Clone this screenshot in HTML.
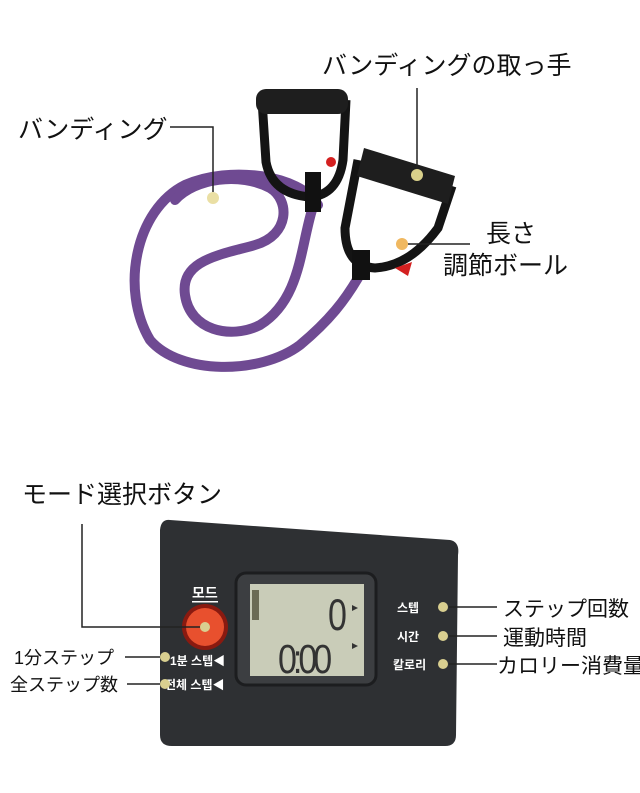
<!DOCTYPE html>
<html><head><meta charset="utf-8"><style>
html,body{margin:0;padding:0;background:#fff}
svg{display:block}
text{font-family:"Liberation Sans","Noto Sans CJK JP",sans-serif}
</style></head><body>
<svg width="640" height="793" viewBox="0 0 640 793" xmlns="http://www.w3.org/2000/svg">
<rect width="640" height="793" fill="#fff"/>
<!-- band -->
<g fill="none" stroke="#6f4a92" stroke-width="10" stroke-linecap="round">
<path d="M318 205 C300 175 230 165 185 185 C135 210 120 290 150 340 C180 375 260 375 300 345 C330 320 345 300 358 278"/>
<path d="M312 210 C300 250 300 300 260 325 C230 340 190 330 185 295 C180 260 220 255 255 245 C290 235 290 200 270 188 C240 172 195 178 175 200"/>
</g>
<!-- handle 1 -->
<path d="M262 100 L266 162 Q272 194 310 197 Q338 195 343 160 L346 100" fill="none" stroke="#141414" stroke-width="9"/>
<rect x="256" y="89" width="92" height="25" rx="10" fill="#1e1e1e"/>
<rect x="305" y="172" width="16" height="40" fill="#111"/>
<circle cx="331" cy="162" r="5" fill="#d42020"/>
<!-- handle 2 -->
<path d="M358 160 L345 228 Q345 266 375 268 Q410 266 438 228 L452 186" fill="none" stroke="#141414" stroke-width="9"/>
<path d="M364 148 L455 176 L448 204 L357 176 Z" fill="#1e1e1e"/>
<rect x="352" y="250" width="18" height="30" fill="#111"/>
<path d="M395 268 L412 262 L408 276 Z" fill="#d42020"/>
<!-- dots -->
<circle cx="213" cy="198" r="6" fill="#e8dc9a" opacity="0.9"/>
<circle cx="417" cy="175" r="6" fill="#d9d08a"/>
<circle cx="402" cy="244" r="6" fill="#f0b860"/>
<!-- top labels & lines -->
<g stroke="#222" stroke-width="1.5" fill="none">
<path d="M170 127 H213 V192"/>
<path d="M417 88 V169"/>
<path d="M408 244 H470"/>
</g>
<g font-size="25" fill="#111">
<text x="18" y="138">バンディング</text>
<text x="322" y="74">バンディングの取っ手</text>
<text x="486" y="242">長さ</text>
<text x="443" y="274">調節ボール</text>
</g>
<!-- device -->
<path d="M170 520 L450 540 Q460 542 458 555 L456 735 Q456 746 445 746 L172 746 Q160 746 160 735 L160 530 Q161 519 170 520 Z" fill="#2e3033"/>
<rect x="236" y="573" width="140" height="112" rx="10" fill="#3c3e41" stroke="#1c1d1f" stroke-width="3"/>
<rect x="250" y="584" width="114" height="92" fill="#c9ccb8"/>
<rect x="252" y="590" width="7" height="30" fill="#6b6b55"/>
<text x="0" y="0" font-size="34" fill="#333" font-family="Liberation Mono,monospace" transform="translate(328 630) scale(1 1.3)">0</text>
<text x="0" y="0" font-size="34" fill="#333" font-family="Liberation Mono,monospace" letter-spacing="-4" transform="translate(278 673) scale(1 1.2)">0:00</text>
<path d="M352 605 l6 3 -6 3Z M352 643 l6 3 -6 3Z" fill="#333"/>
<circle cx="205" cy="627" r="23" fill="#8a1a10"/>
<circle cx="205" cy="627" r="19" fill="#e8502e"/>
<text x="192" y="598" font-size="14" fill="#fff" font-weight="bold" font-family="Liberation Sans,NanumGothic,sans-serif">모드</text>
<rect x="192" y="601" width="26" height="1.5" fill="#fff"/>
<g font-size="12" fill="#fff" font-weight="bold" font-family="Liberation Sans,NanumGothic,sans-serif">
<text x="397" y="612">스텝</text>
<text x="397" y="641">시간</text>
<text x="393" y="669">칼로리</text>
<text x="170" y="665">1분 스텝◀</text>
<text x="165" y="689">전체 스텝◀</text>
</g>
<g fill="#d9cf90">
<circle cx="443" cy="607" r="5"/><circle cx="443" cy="636" r="5"/><circle cx="443" cy="664" r="5"/>
<circle cx="165" cy="657" r="5"/><circle cx="165" cy="684" r="5"/>
<circle cx="205" cy="627" r="5"/>
</g>
<g stroke="#222" stroke-width="1.5" fill="none">
<path d="M82 524 V627 H200"/>
<path d="M449 607 H497"/><path d="M449 636 H497"/><path d="M449 664 H497"/>
<path d="M125 657 H160"/><path d="M127 684 H160"/>
</g>
<g font-size="21" fill="#111">
<text x="22" y="503" font-size="25">モード選択ボタン</text>
<text x="503" y="616">ステップ回数</text>
<text x="503" y="645">運動時間</text>
<text x="497" y="673">カロリー消費量</text>
<text x="14" y="664" font-size="18">1分ステップ</text>
<text x="10" y="691" font-size="18">全ステップ数</text>
</g>
</svg>
</body></html>
